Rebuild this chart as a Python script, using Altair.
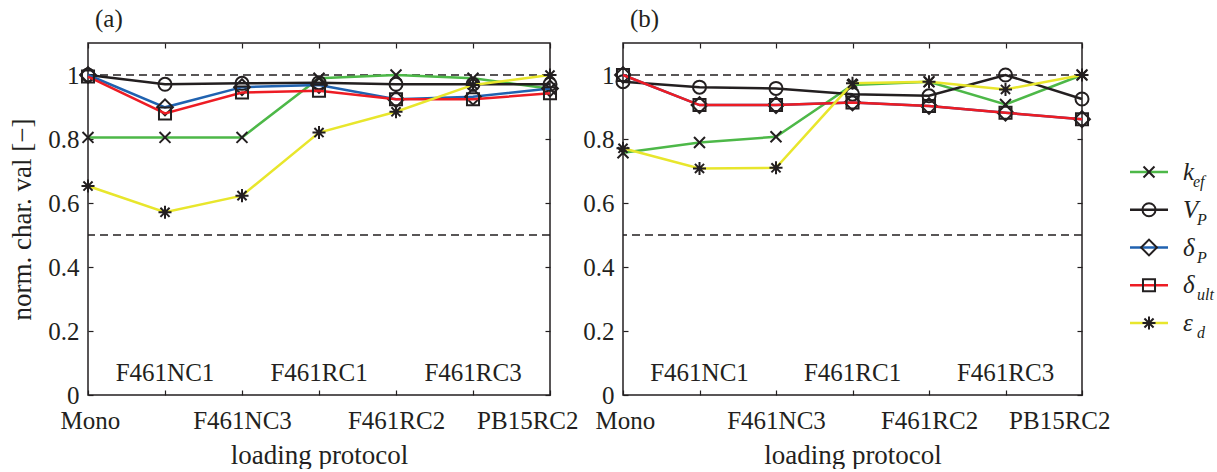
import altair as alt
import pandas as pd

categories = ["Mono", "F461NC1", "F461NC3", "F461RC1", "F461RC2", "F461RC3", "PB15RC2"]
series = ["kef", "VP", "dP", "dult", "epsd"]
colors = ["#4DB848", "#231F20", "#2062B0", "#ED1C24", "#E8E62C"]
legend_main = ["k", "V", "δ", "δ", "ε"]
legend_sub = ["ef", "P", "P", "ult", "d"]

# panel (a)
a_kef = [0.805, 0.805, 0.805, 0.990, 1.000, 0.990, 0.957]
a_vp = [1.000, 0.971, 0.974, 0.976, 0.971, 0.971, 0.971]
a_dp = [1.000, 0.899, 0.962, 0.969, 0.924, 0.932, 0.958]
a_dult = [0.995, 0.880, 0.945, 0.951, 0.924, 0.924, 0.943]
a_eps = [0.653, 0.571, 0.623, 0.820, 0.885, 0.969, 1.000]

# panel (b)
b_kef = [0.757, 0.789, 0.807, 0.969, 0.979, 0.908, 1.000]
b_vp = [0.979, 0.962, 0.958, 0.940, 0.935, 1.000, 0.925]
b_dp = [1.000, 0.906, 0.906, 0.914, 0.903, 0.882, 0.862]
b_dult = [1.000, 0.906, 0.906, 0.914, 0.903, 0.882, 0.862]
b_eps = [0.771, 0.708, 0.710, 0.974, 0.979, 0.955, 1.000]

ref_lines = [1.0, 0.5]
y_ticks = [0, 0.2, 0.4, 0.6, 0.8, 1.0]
y_domain = [0, 1.1]
bottom_labels = categories[0::2]
inner_labels = categories[1::2]

ink = "#231F20"
FONT = "Liberation Serif"
x_path = "M-1,-1L1,1M-1,1L1,-1"
ast_path = "M0,-1L0,1M-1,0L1,0M-0.7,-0.7L0.7,0.7M-0.7,0.7L0.7,-0.7"
shapes = [x_path, "circle", "diamond", "square", ast_path]
sizes = [120, 170, 250, 145, 170]

rows = []
for p, vals in (("a", [a_kef, a_vp, a_dp, a_dult, a_eps]),
                ("b", [b_kef, b_vp, b_dp, b_dult, b_eps])):
    for s, v in zip(series, vals):
        for c, y in zip(categories, v):
            rows.append({"panel": p, "series": s, "cat": c, "val": y})
df = pd.DataFrame(rows)
ref_df = pd.DataFrame({"ref": ref_lines})
inner_df = pd.DataFrame({"cat": inner_labels})
legend_df = pd.DataFrame({"series": series, "main": legend_main, "sub": legend_sub})

label_list = ",".join("'%s'" % c for c in bottom_labels)
label_expr = "indexof([%s], datum.value) >= 0 ? datum.label : ''" % label_list


def panel(p, title, ytitle, width):
    d = df[df.panel == p]
    xs = alt.Scale(type="point", domain=categories, padding=0)
    ys = alt.Scale(domain=y_domain, nice=False, zero=False)
    ref = alt.Chart(ref_df).mark_rule(strokeDash=[8, 5], strokeWidth=1.3, color=ink).encode(
        y=alt.Y("ref:Q", scale=ys, axis=None)
    )
    inner = alt.Chart(inner_df).mark_text(
        baseline="alphabetic", fontSize=25, font=FONT, color=ink
    ).encode(
        x=alt.X("cat:N", scale=xs, axis=None),
        y=alt.datum(0.045, scale=ys, axis=None),
        text="cat:N",
    )
    layers = [ref, inner]
    for i, (s, col, shp, sz) in enumerate(zip(series, colors, shapes, sizes)):
        ds = d[d.series == s]
        if i == 0:
            ax_x = alt.Axis(orient="bottom", offset=-5, tickSize=5, domain=False, labelAngle=0,
                            labelExpr=label_expr, labelPadding=13, labelOverlap=False,
                            labelFlush=True, labelFlushOffset=28,
                            title="loading protocol", titlePadding=9)
            if ytitle:
                ax_y = alt.Axis(orient="left", offset=-5, tickSize=5, domain=False, values=y_ticks,
                                format="~g", labelPadding=9, title=ytitle, titlePadding=11,
                                grid=False)
            else:
                ax_y = alt.Axis(orient="left", offset=-5, tickSize=5, domain=False, values=y_ticks,
                                format="~g", labelPadding=9, title=None, grid=False)
            px_x = alt.Axis(orient="top", offset=-5, tickSize=5, domain=False, labels=False,
                            title=None)
            px_y = alt.Axis(orient="right", offset=-5, tickSize=5, domain=False, labels=False,
                            values=y_ticks, title=None, grid=False)
            enc_l = dict(x=alt.X("cat:N", scale=xs, sort=categories, axis=ax_x),
                         y=alt.Y("val:Q", scale=ys, axis=ax_y))
            enc_p = dict(x=alt.X("cat:N", scale=xs, sort=categories, axis=px_x),
                         y=alt.Y("val:Q", scale=ys, axis=px_y))
        else:
            enc_l = dict(x=alt.X("cat:N", scale=xs, sort=categories, axis=None),
                         y=alt.Y("val:Q", scale=ys, axis=None))
            enc_p = enc_l
        line = alt.Chart(ds).mark_line(strokeWidth=2.5, color=col).encode(**enc_l)
        pts = alt.Chart(ds).mark_point(filled=False, strokeWidth=2, color=ink, opacity=1,
                                       shape=shp, size=sz).encode(**enc_p)
        layers += [line, pts]
    return alt.layer(*layers).resolve_axis(x="independent", y="independent").properties(
        width=width, height=352,
        title=alt.Title(title, anchor="start", frame="group", dx=7, offset=-10, fontSize=25,
                        font=FONT, fontWeight="normal", color=ink, baseline="alphabetic"),
        view=alt.ViewBackground(stroke=ink, strokeWidth=1.5),
    )


pa = panel("a", "(a)", "norm. char. val [\u2212]", 462)
pb = panel("b", "(b)", None, 459)

ly = alt.Y("series:N", scale=alt.Scale(type="point", domain=series, range=[129, 280], padding=0),
           axis=None)
leg_layers = []
for s, col, shp, sz in zip(series, colors, shapes, sizes):
    ds = legend_df[legend_df.series == s]
    leg_layers.append(alt.Chart(ds).mark_rule(strokeWidth=2.5, color=col).encode(
        x=alt.value(-25), x2=alt.value(13), y=ly))
    leg_layers.append(alt.Chart(ds).mark_point(filled=False, strokeWidth=2, color=ink, opacity=1,
                                               shape=shp, size=sz).encode(x=alt.value(-6), y=ly))
leg_layers.append(alt.Chart(legend_df).mark_text(
    align="left", baseline="middle", fontSize=25, font=FONT, fontStyle="italic", color=ink
).encode(x=alt.value(28), y=ly, text="main:N"))
leg_layers.append(alt.Chart(legend_df).transform_filter(alt.datum.series == "kef").mark_text(
    align="left", baseline="alphabetic", dy=15, fontSize=16, font=FONT, fontStyle="italic", color=ink
).encode(x=alt.value(38), y=ly, text="sub:N"))
leg_layers.append(alt.Chart(legend_df).transform_filter(alt.datum.series != "kef").mark_text(
    align="left", baseline="alphabetic", dy=15, fontSize=16, font=FONT, fontStyle="italic", color=ink
).encode(x=alt.value(42), y=ly, text="sub:N"))
leg = alt.layer(*leg_layers).properties(
    width=50, height=352, view=alt.ViewBackground(stroke="transparent"))

chart = alt.hconcat(pa, pb, leg, spacing=73, bounds="flush").properties(
    padding={"left": 8, "top": 6, "right": 0, "bottom": 0}, background="white"
).configure_view(stroke="transparent").configure_axis(
    labelFont=FONT, labelFontSize=25, labelColor=ink, titleFont=FONT, titleFontSize=27,
    titleFontWeight="normal", titleColor=ink, tickColor=ink, tickWidth=1.2,
)

chart.save("out.html", embed_options={"renderer": "svg", "actions": False})
